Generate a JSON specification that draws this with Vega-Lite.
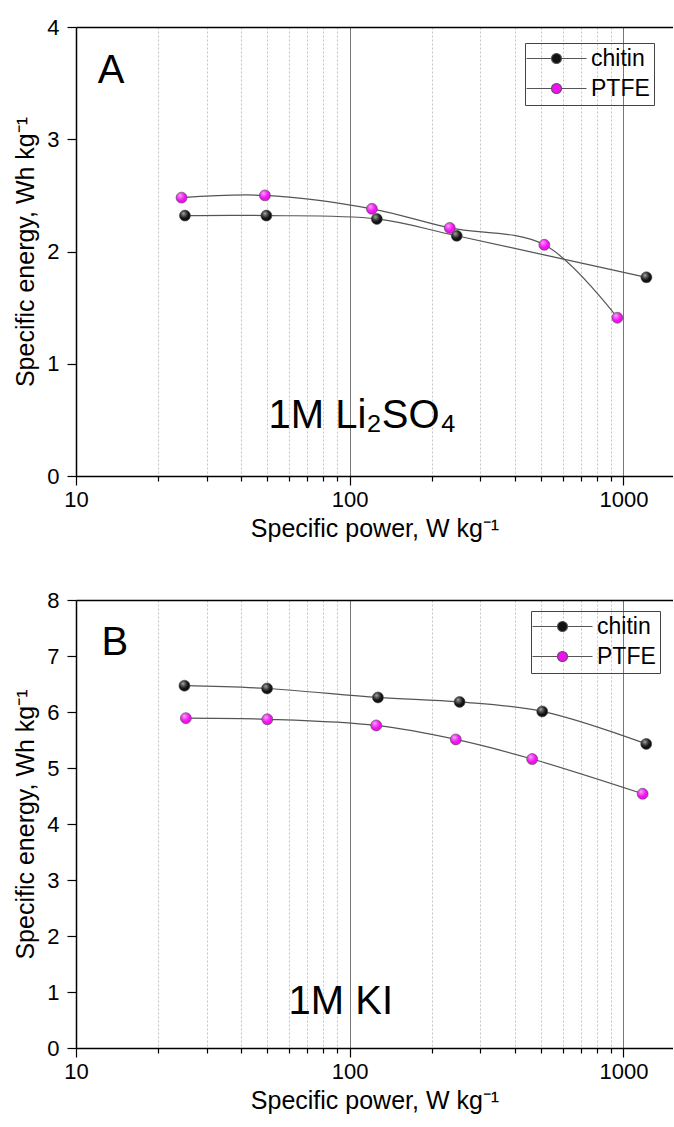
{
  "$schema": "https://vega.github.io/schema/vega-lite/v6.json",
  "padding": {"left": 13, "top": 16, "right": 0, "bottom": 5},
  "background": "white",
  "bounds": "flush",
  "spacing": 124,
  "config": {
    "font": "Liberation Sans",
    "view": {"stroke": null},
    "axis": {
      "domainColor": "black", "domainWidth": 1.5, "tickColor": "black", "tickWidth": 1.2,
      "labelFont": "Liberation Sans", "labelFontSize": 22, "labelColor": "black",
      "titleFont": "Liberation Sans", "titleFontSize": 25, "titleFontWeight": "normal", "titleColor": "black"
    },
    "legend": {
      "title": null, "orient": "none", "padding": 4, "strokeColor": "#444",
      "symbolType": "M-6,0L-1,0M1,0L6,0M-1,0A1,1 0 1,1 1,0A1,1 0 1,1 -1,0Z",
      "symbolSize": 100, "symbolStrokeColor": "#555", "symbolStrokeWidth": 1.1,
      "symbolOffset": 16, "labelOffset": 23, "labelFontSize": 23, "labelColor": "black",
      "labelFont": "Liberation Sans", "rowPadding": 6
    }
  },
  "datasets": {
    "A": [
      {"series": "chitin", "power": 25, "energy": 2.32},
      {"series": "chitin", "power": 49.6, "energy": 2.32},
      {"series": "chitin", "power": 125.6, "energy": 2.29},
      {"series": "chitin", "power": 246, "energy": 2.14},
      {"series": "chitin", "power": 1213, "energy": 1.77},
      {"series": "PTFE", "power": 24.3, "energy": 2.48},
      {"series": "PTFE", "power": 49, "energy": 2.5},
      {"series": "PTFE", "power": 120.5, "energy": 2.38},
      {"series": "PTFE", "power": 232, "energy": 2.21},
      {"series": "PTFE", "power": 514, "energy": 2.06},
      {"series": "PTFE", "power": 950, "energy": 1.41}
    ],
    "B": [
      {"series": "chitin", "power": 24.9, "energy": 6.47},
      {"series": "chitin", "power": 49.9, "energy": 6.42},
      {"series": "chitin", "power": 126.8, "energy": 6.26},
      {"series": "chitin", "power": 252, "energy": 6.18},
      {"series": "chitin", "power": 505, "energy": 6.01},
      {"series": "chitin", "power": 1211, "energy": 5.43},
      {"series": "PTFE", "power": 25.2, "energy": 5.89},
      {"series": "PTFE", "power": 50, "energy": 5.87},
      {"series": "PTFE", "power": 125, "energy": 5.76},
      {"series": "PTFE", "power": 244, "energy": 5.51},
      {"series": "PTFE", "power": 464, "energy": 5.16},
      {"series": "PTFE", "power": 1175, "energy": 4.54}
    ],
    "textA": [
      {"power": 12.0, "energy": 3.5, "label": "A"},
      {"power": 50.5, "energy": 0.43, "label": "1M Li₂SO₄"}
    ],
    "textB": [
      {"power": 12.4, "energy": 7.02, "label": "B"},
      {"power": 59.8, "energy": 0.61, "label": "1M KI"}
    ]
  },
  "resolve": {"scale": {"color": "independent"}, "legend": {"color": "independent"}},
  "vconcat": [
    {
      "width": 597, "height": 449,
      "resolve": {"axis": {"x": "independent"}},
      "layer": [
        {
          "data": {"name": "A"},
          "mark": {"type": "line", "interpolate": "catmull-rom", "color": "#555", "strokeWidth": 1.2},
          "encoding": {
            "x": {"field": "power", "type": "quantitative",
              "scale": {"type": "log", "domain": [10, 1517], "nice": false},
              "axis": {"title": "Specific power, W kg⁻¹",
                "values": [10,20,30,40,50,60,70,80,90,100,200,300,400,500,600,700,800,900,1000],
                "format": "d", "labelFlush": false,
                "labelExpr": "datum.value == 10 || datum.value == 100 || datum.value == 1000 ? datum.label : ''",
                "tickSize": {"condition": {"test": "datum.value == 10 || datum.value == 100 || datum.value == 1000", "value": 9}, "value": 5},
                "grid": true,
                "gridColor": {"condition": {"test": "datum.value == 100 || datum.value == 1000", "value": "#777777"}, "value": "#c4c4c4"},
                "gridDash": {"condition": {"test": "datum.value == 100 || datum.value == 1000", "value": []}, "value": [2, 2]},
                "gridWidth": 1, "labelPadding": 4, "titlePadding": 6}},
            "y": {"field": "energy", "type": "quantitative",
              "scale": {"domain": [0, 4], "nice": false, "zero": false},
              "axis": {"title": "Specific energy, Wh kg⁻¹",
                "values": [0,0.5,1,1.5,2,2.5,3,3.5,4], "format": "d",
                "labelExpr": "datum.value % 1 == 0 ? datum.label : ''",
                "tickSize": {"condition": {"test": "datum.value % 1 != 0", "value": 5}, "value": 9},
                "grid": false, "labelPadding": 8, "titlePadding": 8}},
            "detail": {"field": "series"}
          }
        },
        {
          "data": {"name": "A"},
          "mark": {"type": "point", "filled": true, "size": 120, "opacity": 1, "stroke": "#444", "strokeWidth": 0.6},
          "encoding": {
            "x": {"field": "power", "type": "quantitative", "axis": null},
            "y": {"field": "energy", "type": "quantitative"},
            "color": {"field": "series", "type": "nominal",
              "scale": {"domain": ["chitin", "PTFE"], "range": ["#111111", "#f010f0"]},
              "legend": {"legendX": 449, "legendY": 16}}
          }
        },
        {
          "data": {"name": "A"},
          "mark": {"type": "point", "filled": true, "size": 120, "strokeWidth": 0,
            "fill": {"gradient": "radial", "x1": 0.36, "y1": 0.3, "r1": 0, "x2": 0.4, "y2": 0.36, "r2": 0.42,
              "stops": [{"offset": 0, "color": "rgba(255,255,255,0.95)"}, {"offset": 0.45, "color": "rgba(255,255,255,0.45)"}, {"offset": 1, "color": "rgba(255,255,255,0)"}]}},
          "encoding": {
            "x": {"field": "power", "type": "quantitative", "axis": null},
            "y": {"field": "energy", "type": "quantitative"}
          }
        },
        {
          "data": {"name": "textA"},
          "mark": {"type": "text", "fontSize": 40, "align": "left", "baseline": "alphabetic", "font": "Liberation Sans", "color": "black"},
          "encoding": {
            "x": {"field": "power", "type": "quantitative",
              "axis": {"orient": "top", "labels": false, "ticks": false, "title": null, "grid": false, "domainColor": "black", "domainWidth": 1.5}},
            "y": {"field": "energy", "type": "quantitative"},
            "text": {"field": "label"}
          }
        }
      ]
    },
    {
      "width": 597, "height": 448,
      "resolve": {"axis": {"x": "independent"}},
      "layer": [
        {
          "data": {"name": "B"},
          "mark": {"type": "line", "interpolate": "catmull-rom", "color": "#555", "strokeWidth": 1.2},
          "encoding": {
            "x": {"field": "power", "type": "quantitative",
              "scale": {"type": "log", "domain": [10, 1517], "nice": false},
              "axis": {"title": "Specific power, W kg⁻¹",
                "values": [10,20,30,40,50,60,70,80,90,100,200,300,400,500,600,700,800,900,1000],
                "format": "d", "labelFlush": false,
                "labelExpr": "datum.value == 10 || datum.value == 100 || datum.value == 1000 ? datum.label : ''",
                "tickSize": {"condition": {"test": "datum.value == 10 || datum.value == 100 || datum.value == 1000", "value": 9}, "value": 5},
                "grid": true,
                "gridColor": {"condition": {"test": "datum.value == 100 || datum.value == 1000", "value": "#777777"}, "value": "#c4c4c4"},
                "gridDash": {"condition": {"test": "datum.value == 100 || datum.value == 1000", "value": []}, "value": [2, 2]},
                "gridWidth": 1, "labelPadding": 4, "titlePadding": 6}},
            "y": {"field": "energy", "type": "quantitative",
              "scale": {"domain": [0, 8], "nice": false, "zero": false},
              "axis": {"title": "Specific energy, Wh kg⁻¹",
                "values": [0,0.5,1,1.5,2,2.5,3,3.5,4,4.5,5,5.5,6,6.5,7,7.5,8], "format": "d",
                "labelExpr": "datum.value % 1 == 0 ? datum.label : ''",
                "tickSize": {"condition": {"test": "datum.value % 1 != 0", "value": 5}, "value": 9},
                "grid": false, "labelPadding": 8, "titlePadding": 8}},
            "detail": {"field": "series"}
          }
        },
        {
          "data": {"name": "B"},
          "mark": {"type": "point", "filled": true, "size": 120, "opacity": 1, "stroke": "#444", "strokeWidth": 0.6},
          "encoding": {
            "x": {"field": "power", "type": "quantitative", "axis": null},
            "y": {"field": "energy", "type": "quantitative"},
            "color": {"field": "series", "type": "nominal",
              "scale": {"domain": ["chitin", "PTFE"], "range": ["#111111", "#f010f0"]},
              "legend": {"legendX": 455, "legendY": 11}}
          }
        },
        {
          "data": {"name": "B"},
          "mark": {"type": "point", "filled": true, "size": 120, "strokeWidth": 0,
            "fill": {"gradient": "radial", "x1": 0.36, "y1": 0.3, "r1": 0, "x2": 0.4, "y2": 0.36, "r2": 0.42,
              "stops": [{"offset": 0, "color": "rgba(255,255,255,0.95)"}, {"offset": 0.45, "color": "rgba(255,255,255,0.45)"}, {"offset": 1, "color": "rgba(255,255,255,0)"}]}},
          "encoding": {
            "x": {"field": "power", "type": "quantitative", "axis": null},
            "y": {"field": "energy", "type": "quantitative"}
          }
        },
        {
          "data": {"name": "textB"},
          "mark": {"type": "text", "fontSize": 40, "align": "left", "baseline": "alphabetic", "font": "Liberation Sans", "color": "black"},
          "encoding": {
            "x": {"field": "power", "type": "quantitative",
              "axis": {"orient": "top", "labels": false, "ticks": false, "title": null, "grid": false, "domainColor": "black", "domainWidth": 1.5}},
            "y": {"field": "energy", "type": "quantitative"},
            "text": {"field": "label"}
          }
        }
      ]
    }
  ]
}
